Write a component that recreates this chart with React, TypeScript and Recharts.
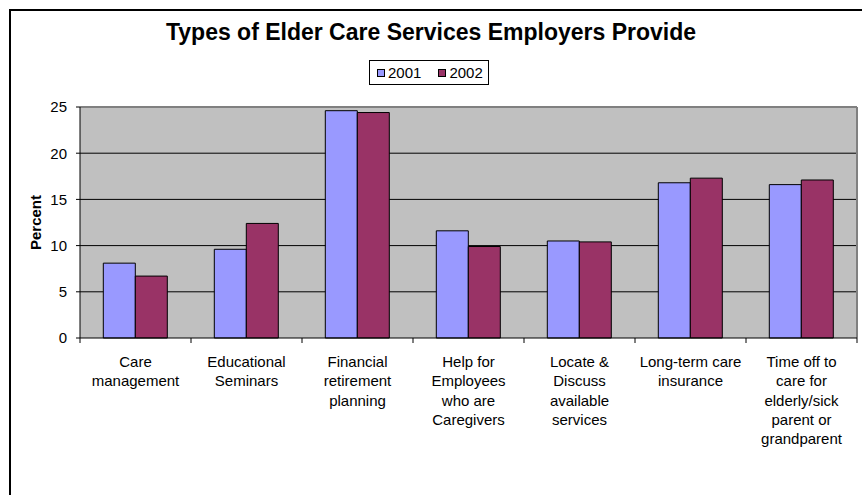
import React from 'react';
import { BarChart, Bar, XAxis, YAxis, CartesianGrid, Legend } from 'recharts';

// category labels, with the line breaks used on the axis
const categories: string[] = [
  'Care\nmanagement',
  'Educational\nSeminars',
  'Financial\nretirement\nplanning',
  'Help for\nEmployees\nwho are\nCaregivers',
  'Locate &\nDiscuss\navailable\nservices',
  'Long-term care\ninsurance',
  'Time off to\ncare for\nelderly/sick\nparent or\ngrandparent',
];

const values2001: number[] = [8.1, 9.6, 24.6, 11.6, 10.5, 16.8, 16.6];
const values2002: number[] = [6.7, 12.4, 24.4, 9.9, 10.4, 17.3, 17.1];

const yTicks: number[] = [0, 5, 10, 15, 20, 25];
const gridValues: number[] = [5, 10, 15, 20];

const FONT = '"Liberation Sans", Arial, sans-serif';

const data = categories.map((category, i) => ({
  category,
  y2001: values2001[i],
  y2002: values2002[i],
}));

function CategoryTick(props: any) {
  const { x, y, payload, index } = props;
  const lines = String(payload.value).split('\n');
  const half = payload.offset ?? 55.5;
  const isLast = index === categories.length - 1;
  return (
    <g>
      <line x1={x - half} y1={y} x2={x - half} y2={y + 5} stroke="#000" />
      {isLast && <line x1={x + half} y1={y} x2={x + half} y2={y + 5} stroke="#000" />}
      <text textAnchor="middle" fontFamily={FONT} fontSize={15} fill="#000">
        {lines.map((line, i) => (
          <tspan key={i} x={x} y={y + 29 + i * 19.3}>
            {line}
          </tspan>
        ))}
      </text>
    </g>
  );
}

function LegendBox(props: any) {
  const payload = props.payload || [];
  return (
    <div
      style={{
        display: 'flex',
        alignItems: 'center',
        boxSizing: 'border-box',
        height: 25,
        border: '1px solid #000',
        background: '#fff',
        padding: '0 5px 0 7px',
        fontFamily: FONT,
        fontSize: 15,
        color: '#000',
      }}
    >
      {payload.map((entry: any, i: number) => (
        <span key={entry.value} style={{ display: 'flex', alignItems: 'center', marginLeft: i === 0 ? 0 : 17 }}>
          <span
            style={{
              display: 'inline-block',
              boxSizing: 'border-box',
              width: 8,
              height: 8,
              border: '1px solid #000',
              background: entry.color,
              marginRight: 3,
            }}
          />
          {entry.value}
        </span>
      ))}
    </div>
  );
}

function PercentLabel(props: any) {
  const { viewBox } = props;
  const cx = viewBox.x + 15;
  const cy = viewBox.y + viewBox.height / 2;
  return (
    <text
      x={cx}
      y={cy}
      transform={`rotate(-90, ${cx}, ${cy})`}
      textAnchor="middle"
      dominantBaseline="central"
      fontFamily={FONT}
      fontSize={15}
      fontWeight="bold"
      fill="#000"
    >
      Percent
    </text>
  );
}

export default function App() {
  return (
    <div style={{ position: 'absolute', left: 0, top: 0, width: 862, height: 495, background: '#fff' }}>
      <div
        style={{
          position: 'absolute',
          left: 9,
          top: 9,
          right: 0,
          bottom: 0,
          borderLeft: '2px solid #000',
          borderTop: '2px solid #000',
        }}
      />
      <div
        style={{
          position: 'absolute',
          left: 0,
          top: 19,
          width: 862,
          textAlign: 'center',
          fontFamily: FONT,
          fontSize: 23,
          fontWeight: 'bold',
          color: '#000',
        }}
      >
        Types of Elder Care Services Employers Provide
      </div>
      <div style={{ position: 'absolute', left: 0, top: 0 }}>
        <BarChart
          width={862}
          height={495}
          data={data}
          margin={{ top: 107, right: 5, bottom: 7, left: 20 }}
          barCategoryGap="21%"
          barGap={0}
        >
          <CartesianGrid
            vertical={false}
            horizontalValues={gridValues}
            stroke="#000"
            fill="#C0C0C0"
          />
          <CartesianGrid
            stroke="#808080"
            strokeWidth={2}
            horizontalCoordinatesGenerator={({ offset }: any) => [offset.top]}
            verticalCoordinatesGenerator={({ offset }: any) => [offset.left + offset.width]}
          />
          <XAxis
            dataKey="category"
            interval={0}
            height={150}
            axisLine={{ stroke: '#000' }}
            tickLine={false}
            tickSize={0}
            tickMargin={0}
            tick={<CategoryTick />}
          />
          <YAxis
            width={60}
            domain={[0, 25]}
            ticks={yTicks}
            interval={0}
            axisLine={{ stroke: '#000' }}
            tickLine={{ stroke: '#000' }}
            tickSize={4}
            tickMargin={9}
            tick={{ fill: '#000', fontSize: 15, fontFamily: FONT }}
            label={<PercentLabel />}
          />
          <Legend
            layout="horizontal"
            verticalAlign="middle"
            align="center"
            content={<LegendBox />}
            wrapperStyle={{ position: 'absolute', left: 369, top: 60, width: 'auto', height: 'auto' }}
          />
          <Bar dataKey="y2001" name="2001" fill="#9999FF" stroke="#000" strokeWidth={1} isAnimationActive={false} />
          <Bar dataKey="y2002" name="2002" fill="#993366" stroke="#000" strokeWidth={1} isAnimationActive={false} />
        </BarChart>
      </div>
    </div>
  );
}
